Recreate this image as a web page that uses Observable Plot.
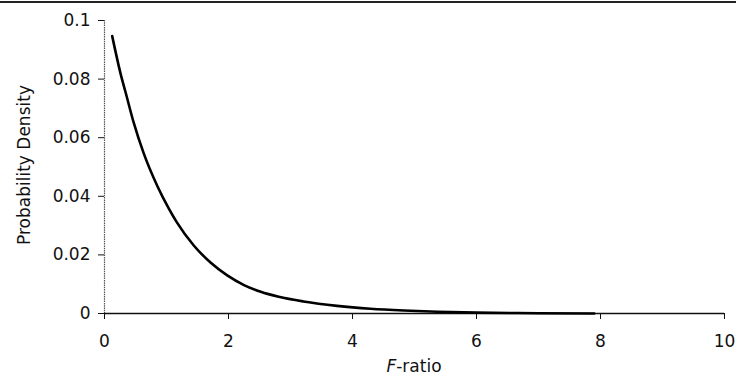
<!DOCTYPE html>
<html>
<head>
<meta charset="utf-8">
<script src="https://cdn.jsdelivr.net/npm/d3@7"></script>
<script src="https://cdn.jsdelivr.net/npm/@observablehq/plot@0.6"></script>
<style>
  html, body { margin: 0; padding: 0; background: #fff; }
  #wrap { width: 736px; height: 383px; position: relative; overflow: hidden; }
  #topline { position: absolute; left: 0; top: 1px; width: 736px; height: 2px; background: #222; }
</style>
</head>
<body>
<div id="wrap"><div id="topline"></div><div id="chart"></div></div>
<script>
const fRatio  = [0.124, 0.26, 0.34, 0.47, 0.63, 0.85, 1.04, 1.17, 1.44, 1.71, 1.98, 2.25, 2.52, 2.81, 3.21, 3.75, 4.29, 4.83, 5.37, 6.0, 7.0, 7.9];
const density = [0.0947, 0.0818, 0.0755, 0.0652, 0.0548, 0.0436, 0.0357, 0.031, 0.0232, 0.0174, 0.0130, 0.0097, 0.0074, 0.0057, 0.0041, 0.0026, 0.0016, 0.0010, 0.0006, 0.0003, 0.0001, 0.0];
const xTicks = [0, 2, 4, 6, 8, 10];
const yTicks = [0, 0.02, 0.04, 0.06, 0.08, 0.1];

const data = fRatio.map((x, i) => ({x, y: density[i]}));

const chart = Plot.plot({
  width: 736,
  height: 383,
  marginLeft: 104,
  marginRight: 12,
  marginTop: 20,
  marginBottom: 70,
  style: {fontFamily: "DejaVu Sans, sans-serif", fontSize: "17px", color: "#111", background: "#fff"},
  x: {domain: [0, 10], ticks: xTicks, tickSize: 6, tickPadding: 15, label: null},
  y: {domain: [0, 0.1], ticks: yTicks, tickSize: 6, tickPadding: 8, label: null, tickFormat: d => String(d)},
  marks: [
    Plot.ruleX([0], {stroke: "#555", strokeWidth: 1.2, strokeDasharray: "1.5,0.8"}),
    Plot.ruleY([0], {stroke: "#111", strokeWidth: 1.5}),
    Plot.line(data, {x: "x", y: "y", stroke: "#000", strokeWidth: 2.6, curve: "monotone-x"})
  ]
});
document.getElementById("chart").appendChild(chart);

const svg = d3.select(chart);
// x-axis label with italic F
const xl = svg.append("text")
  .attr("x", 414).attr("y", 372)
  .attr("text-anchor", "middle")
  .attr("font-family", "DejaVu Sans, sans-serif")
  .attr("font-size", 17)
  .attr("fill", "#111");
xl.append("tspan").attr("font-style", "italic").text("F");
xl.append("tspan").text("-ratio");
// y-axis label
svg.append("text")
  .attr("transform", "translate(30,165) rotate(-90)")
  .attr("text-anchor", "middle")
  .attr("font-family", "DejaVu Sans, sans-serif")
  .attr("font-size", 17)
  .attr("fill", "#111")
  .text("Probability Density");
</script>
</body>
</html>
